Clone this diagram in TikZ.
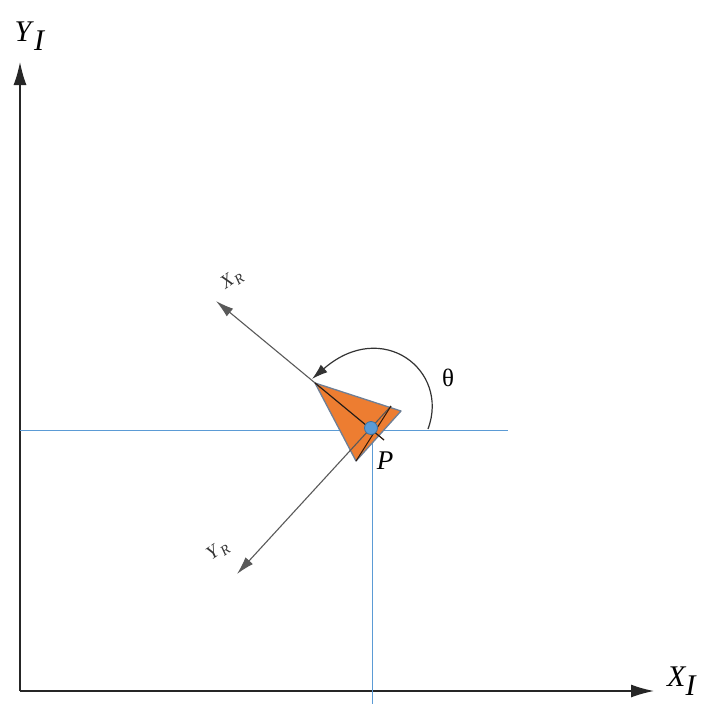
\documentclass[tikz,border=0pt]{standalone}
\usepackage{fontspec}
\setmainfont{Liberation Serif}
\usetikzlibrary{arrows.meta}
\definecolor{axblue}{HTML}{5B9BD5}
\definecolor{robor}{HTML}{ED7D31}
\definecolor{robedge}{HTML}{6D7F96}
\definecolor{ptedge}{HTML}{41719C}
\tikzset{
  axis/.style={draw=black!85, line width=1.4pt, -{Latex[length=23pt,width=13pt]}},
  frame/.style={draw=black!65, line width=1.1pt, -{Latex[length=18pt,width=10pt]}},
  guide/.style={draw=axblue, line width=0.8pt},
  lbl/.style={inner sep=0pt, font=\fontsize{30}{34}\selectfont},
  smalllbl/.style={inner sep=0pt, text=black!80, font=\fontsize{19}{22}\selectfont},
}
\begin{document}
\begin{tikzpicture}[x=1pt,y=-1pt]
\useasboundingbox (0,0) rectangle (703,704);
% origin and axis ends
\coordinate (O) at (20,691);
\coordinate (Ytip) at (20,62);
\coordinate (Xtip) at (654,691);
\draw[axis] (O) -- (Ytip);
\draw[axis] (O) -- (Xtip);
\node[lbl] (YI) at (30,36) {\textit{Y}\raisebox{-0.3em}{\textit{I}}};
\node[lbl, anchor=west] (XI) at (667,681) {\textit{X}\kern-1pt\raisebox{-0.3em}{\textit{I}}};
% guide lines
\coordinate (P) at (371,428);
\coordinate (Hl) at (20,430);
\coordinate (Hr) at (508,430);
\coordinate (Vb) at (372,704);
\draw[guide] (Hl) -- (Hr);
\draw[guide] (372,430) -- (Vb);
% robot triangle
\coordinate (A) at (315,383);
\coordinate (B) at (401,411);
\coordinate (C) at (356,461);
\filldraw[fill=robor, draw=robedge, line width=1.3pt, line join=round] (A) -- (B) -- (C) -- cycle;
% robot frame axes
\coordinate (XRtip) at (216,301);
\coordinate (YRtip) at (237,574);
\coordinate (XRback) at (384,440);
\coordinate (YRfront) at (391,406);
\draw[frame] (XRback) -- (XRtip);
\draw[frame] (YRfront) -- (YRtip);
\draw[draw=black!80!robor, line width=1pt] (A) -- (XRback);
\draw[draw=black!80!robor, line width=1pt] (YRfront) -- (C);
\node[smalllbl, rotate=35] (XR) at (232,280) {\textit{X}\raisebox{-0.25em}{\fontsize{14}{16}\selectfont\textit{R}}};
\node[smalllbl, rotate=35] (YR) at (218,551) {\textit{Y}\raisebox{-0.25em}{\fontsize{14}{16}\selectfont\textit{R}}};
% point P
\filldraw[fill=axblue, draw=ptedge, line width=0.8pt] (P) circle (6.5);
\node[lbl, font=\fontsize{27}{30}\selectfont\itshape] (Plbl) at (385,461) {P};
% theta arc
\coordinate (Ts) at (428,429);
\coordinate (Te) at (312,379);
\draw[draw=black!80, line width=1.2pt, -{Latex[length=16pt,width=10pt]}] (Ts) .. controls (450,370) and (382,318) .. (Te);
\node[lbl, font=\fontsize{25}{28}\selectfont] (theta) at (448,378) {θ};
\end{tikzpicture}
\end{document}
